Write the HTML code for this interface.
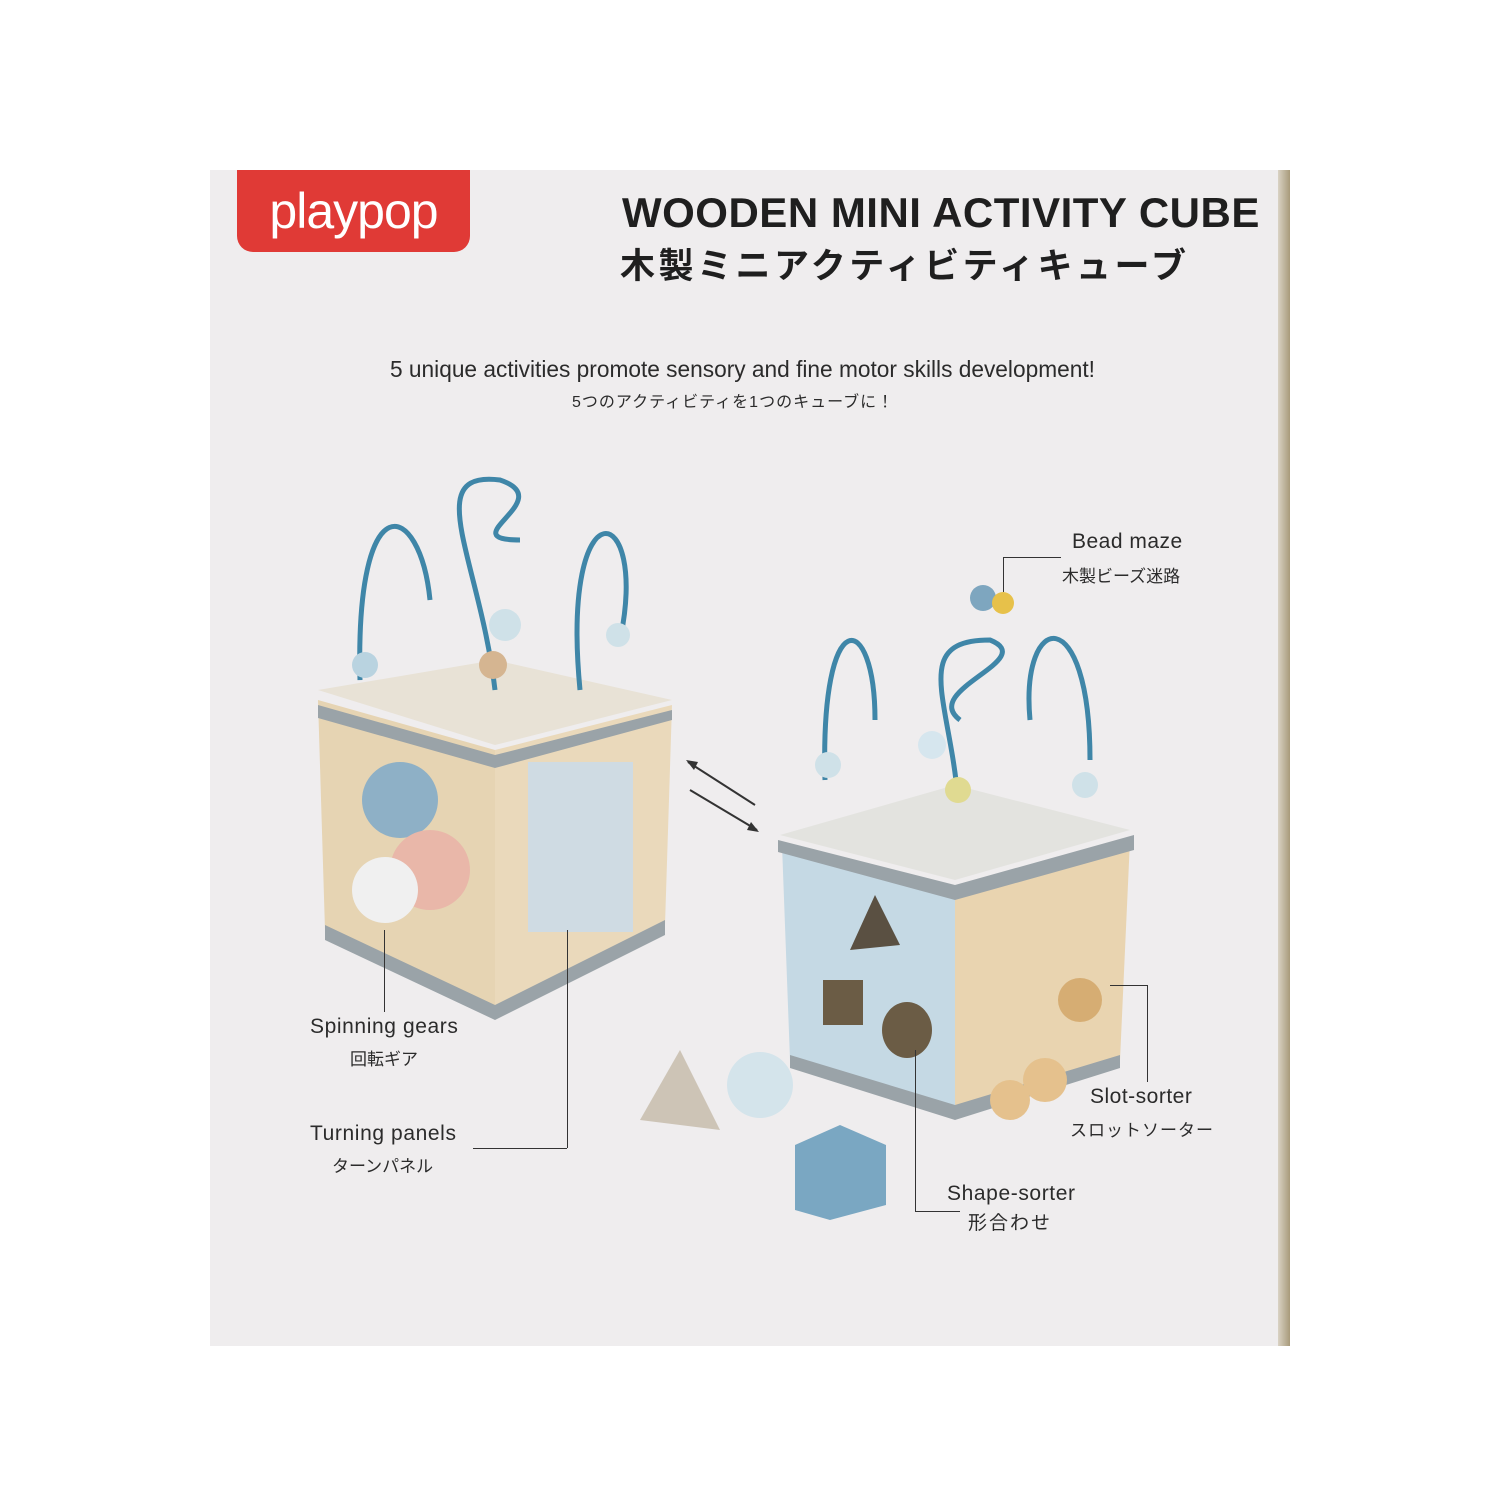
<!DOCTYPE html>
<html><head><meta charset="utf-8"><style>
html,body{margin:0;padding:0;background:#fff;}
body{width:1500px;height:1500px;position:relative;overflow:hidden;font-family:"Liberation Sans","Noto Sans CJK JP",sans-serif;}
.box{position:absolute;left:210px;top:170px;width:1080px;height:1176px;background:#efedee;}
.edge{position:absolute;left:1278px;top:170px;width:12px;height:1176px;background:linear-gradient(90deg,#d9d2c4,#a89a7a);}
.t{position:absolute;color:#2b2b2b;white-space:nowrap;}
.logo{position:absolute;left:237px;top:170px;width:233px;height:82px;background:#e03a36;border-radius:0 0 16px 16px;color:#fff;font-size:50px;text-align:center;line-height:82px;letter-spacing:-1px;}
.ln{position:absolute;background:#333;}
</style></head><body>
<div class="box"></div><div class="edge"></div>
<div class="logo">playpop</div>
<div class="t" style="left:622px;top:189px;font-size:42px;font-weight:bold;color:#1f1f1f;letter-spacing:0.5px;">WOODEN MINI ACTIVITY CUBE</div>
<div class="t" style="left:620px;top:238px;font-size:35px;font-weight:bold;color:#1f1f1f;letter-spacing:3.5px;">木製ミニアクティビティキューブ</div>
<div class="t" style="left:390px;top:356px;font-size:22.7px;">5 unique activities promote sensory and fine motor skills development!</div>
<div class="t" style="left:572px;top:388px;font-size:16px;letter-spacing:1px;">5つのアクティビティを1つのキューブに！</div>

<svg style="position:absolute;left:0;top:0" width="1500" height="1500">
<polygon points="318,690 495,660 672,700 495,745" fill="#e8e2d6"/>
<polygon points="318,700 495,750 495,1010 325,930" fill="#e6d4b3"/>
<polygon points="495,750 672,705 665,925 495,1010" fill="#ead9bb"/>
<polygon points="318,705 495,755 672,710 672,720 495,768 318,718" fill="#9aa3a8"/>
<polygon points="325,925 495,1005 665,920 665,935 495,1020 325,940" fill="#9aa3a8"/>
<rect x="528" y="762" width="105" height="170" fill="#cfdbe3"/>
<circle cx="400" cy="800" r="38" fill="#8eb0c6"/>
<circle cx="430" cy="870" r="40" fill="#e9b7a9"/>
<circle cx="385" cy="890" r="33" fill="#f0f0f0"/>
<path d="M360,680 C355,480 420,500 430,600 M580,690 C560,480 650,500 620,640 M495,690 C480,560 420,470 500,480 C560,500 450,540 520,540" stroke="#3f86a8" stroke-width="5" fill="none"/>
<circle cx="365" cy="665" r="13" fill="#b9d3e0"/><circle cx="618" cy="635" r="12" fill="#cfe1e8"/><circle cx="505" cy="625" r="16" fill="#cfe1e8"/><circle cx="493" cy="665" r="14" fill="#d5b591"/>
<polygon points="780,835 955,785 1130,830 955,880" fill="#e3e3df"/>
<polygon points="782,845 955,890 955,1110 790,1060" fill="#c5d9e4"/>
<polygon points="955,890 1130,840 1120,1060 955,1110" fill="#e9d4b0"/>
<polygon points="778,840 955,885 1134,835 1134,850 955,900 778,852" fill="#9aa3a8"/>
<polygon points="790,1055 955,1105 1120,1055 1120,1068 955,1120 790,1068" fill="#9aa3a8"/>
<polygon points="875,895 900,945 850,950" fill="#5a5042"/>
<rect x="823" y="980" width="40" height="45" fill="#6b5c45"/>
<ellipse cx="907" cy="1030" rx="25" ry="28" fill="#6b5c45"/>
<circle cx="1045" cy="1080" r="22" fill="#e5c18d"/><circle cx="1080" cy="1000" r="22" fill="#d6ad73"/><circle cx="1010" cy="1100" r="20" fill="#e5c18d"/>
<path d="M825,780 C820,600 875,610 875,720 M1090,760 C1090,600 1020,610 1030,720 M958,800 C950,700 910,640 990,640 C1040,660 920,690 960,720" stroke="#3f86a8" stroke-width="5" fill="none"/>
<circle cx="828" cy="765" r="13" fill="#cfe1e8"/><circle cx="1085" cy="785" r="13" fill="#cfe1e8"/><circle cx="932" cy="745" r="14" fill="#d6e6ee"/><circle cx="958" cy="790" r="13" fill="#e0da91"/><circle cx="983" cy="598" r="13" fill="#7ea6bf"/><circle cx="1003" cy="603" r="11" fill="#e7c14a"/>
<polygon points="680,1050 640,1120 720,1130" fill="#cdc4b6"/>
<circle cx="760" cy="1085" r="33" fill="#d4e4eb"/>
<polygon points="795,1145 840,1125 886,1145 886,1205 830,1220 795,1210" fill="#7aa7c2"/>
<path d="M688,762 L755,805 M690,790 L757,830" stroke="#333" stroke-width="2"/>
<polygon points="686,760 698,762 694,770" fill="#333"/><polygon points="759,832 747,830 751,822" fill="#333"/>
</svg>

<div class="ln" style="left:1003px;top:557px;width:58px;height:1px"></div>
<div class="ln" style="left:1003px;top:557px;width:1px;height:35px"></div>
<div class="t" style="left:1072px;top:530px;font-size:21px;letter-spacing:0.5px;">Bead maze</div>
<div class="t" style="left:1062px;top:562px;font-size:17px;">木製ビーズ迷路</div>

<div class="ln" style="left:384px;top:930px;width:1px;height:82px"></div>
<div class="t" style="left:310px;top:1015px;font-size:21px;letter-spacing:0.6px;">Spinning gears</div>
<div class="t" style="left:350px;top:1045px;font-size:17px;">回転ギア</div>

<div class="ln" style="left:473px;top:1148px;width:94px;height:1px"></div>
<div class="ln" style="left:567px;top:930px;width:1px;height:218px"></div>
<div class="t" style="left:310px;top:1122px;font-size:21px;letter-spacing:0.6px;">Turning panels</div>
<div class="t" style="left:332px;top:1152px;font-size:17px;">ターンパネル</div>

<div class="ln" style="left:1110px;top:985px;width:37px;height:1px"></div>
<div class="ln" style="left:1147px;top:985px;width:1px;height:97px"></div>
<div class="t" style="left:1090px;top:1085px;font-size:21px;letter-spacing:0.5px;">Slot-sorter</div>
<div class="t" style="left:1070px;top:1116px;font-size:17px;letter-spacing:1px;">スロットソーター</div>

<div class="ln" style="left:915px;top:1050px;width:1px;height:162px"></div>
<div class="ln" style="left:915px;top:1211px;width:45px;height:1px"></div>
<div class="t" style="left:947px;top:1182px;font-size:21px;letter-spacing:0.6px;">Shape-sorter</div>
<div class="t" style="left:968px;top:1208px;font-size:19px;letter-spacing:2px;">形合わせ</div>
</body></html>
